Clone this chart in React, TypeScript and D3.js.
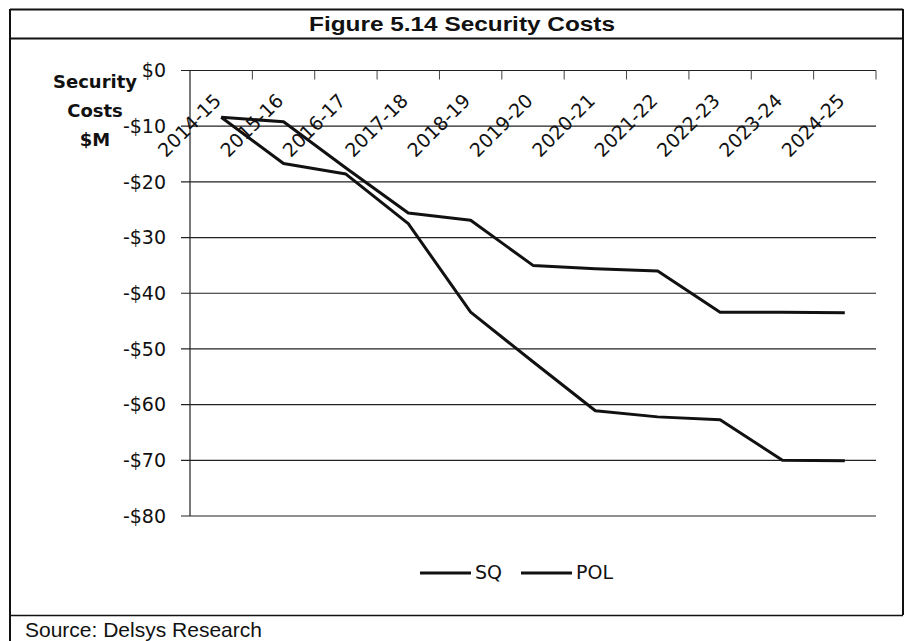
import React, { useEffect, useRef } from 'react';
import { select, scaleBand, scaleLinear, line } from 'd3';

const categories = ['2014-15', '2015-16', '2016-17', '2017-18', '2018-19', '2019-20', '2020-21', '2021-22', '2022-23', '2023-24', '2024-25'];
const sqValues = [-8.4, -16.7, -18.6, -27.5, -43.4, -52.3, -61.1, -62.2, -62.7, -70.0, -70.1];
const polValues = [-8.4, -9.2, -17.5, -25.6, -26.9, -35.0, -35.6, -36.0, -43.4, -43.4, -43.5];
const yTicks = [0, -10, -20, -30, -40, -50, -60, -70, -80];
const seriesNames = ['SQ', 'POL'];
const yTitle = ['Security', 'Costs', '$M'];

const W = 906;
const H = 641;
const FONT = '"DejaVu Sans", sans-serif';

const App = () => {
    const ref = useRef(null);

    useEffect(() => {
        const svg = select(ref.current);
        svg.selectAll('*').remove();

        // frame
        svg.append('rect').attr('width', W).attr('height', H).attr('fill', '#fff');
        const frame = svg.append('g').attr('stroke', '#111').attr('fill', 'none');
        frame.append('line').attr('x1', 10).attr('x2', 903).attr('y1', 9.5).attr('y2', 9.5).attr('stroke-width', 2);
        frame.append('line').attr('x1', 10).attr('x2', 903).attr('y1', 38.5).attr('y2', 38.5).attr('stroke-width', 2);
        frame.append('line').attr('x1', 10).attr('x2', 10).attr('y1', 9).attr('y2', H).attr('stroke-width', 2);
        frame.append('line').attr('x1', 903).attr('x2', 903).attr('y1', 9).attr('y2', 615).attr('stroke-width', 2);
        frame.append('line').attr('x1', 10).attr('x2', 903).attr('y1', 615.5).attr('y2', 615.5).attr('stroke-width', 1.5);

        svg.append('text')
            .attr('transform', 'translate(462, 31) scale(1.25, 1)')
            .attr('text-anchor', 'middle')
            .attr('font-family', '"Liberation Sans", Arial, sans-serif')
            .attr('font-weight', 'bold')
            .attr('font-size', 19.5)
            .attr('fill', '#111')
            .text('Figure 5.14 Security Costs');

        svg.append('text')
            .attr('x', 25)
            .attr('y', 637)
            .attr('font-family', '"Liberation Sans", Arial, sans-serif')
            .attr('font-size', 21)
            .attr('fill', '#111')
            .text('Source: Delsys Research');

        const x = scaleBand().domain(categories).range([190, 876]);
        const y = scaleLinear().domain([0, -80]).range([70.5, 516]);
        const cx = (c) => x(c) + x.bandwidth() / 2;

        // gridlines + left ticks
        svg.append('g')
            .selectAll('line')
            .data(yTicks)
            .enter()
            .append('line')
            .attr('x1', 181)
            .attr('x2', 876)
            .attr('y1', (d) => y(d))
            .attr('y2', (d) => y(d))
            .attr('stroke', '#222')
            .attr('stroke-width', 1.2);

        svg.append('line')
            .attr('x1', 190).attr('x2', 190)
            .attr('y1', y(0)).attr('y2', y(-80))
            .attr('stroke', '#222').attr('stroke-width', 1.2);

        svg.append('g')
            .selectAll('text')
            .data(yTicks)
            .enter()
            .append('text')
            .attr('x', 166)
            .attr('y', (d) => y(d))
            .attr('dy', '0.35em')
            .attr('text-anchor', 'end')
            .attr('font-family', FONT)
            .attr('font-size', 19)
            .attr('fill', '#111')
            .text((d) => (d === 0 ? '$0' : '-$' + Math.abs(d)));

        // category ticks hanging from the top line
        const tickXs = categories.map((c) => x(c)).slice(1).concat([x.range()[1]]);
        svg.append('g')
            .selectAll('line')
            .data(tickXs)
            .enter()
            .append('line')
            .attr('x1', (d) => d).attr('x2', (d) => d)
            .attr('y1', y(0)).attr('y2', y(0) + 9)
            .attr('stroke', '#444').attr('stroke-width', 1);

        svg.append('g')
            .selectAll('text')
            .data(categories)
            .enter()
            .append('text')
            .attr('transform', (d) => 'translate(' + (cx(d) + 1) + ', 102) rotate(-45)')
            .attr('text-anchor', 'end')
            .attr('font-family', FONT)
            .attr('font-size', 19)
            .attr('fill', '#111')
            .text((d) => d);

        // y title
        svg.append('g')
            .selectAll('text')
            .data(yTitle)
            .enter()
            .append('text')
            .attr('x', 95)
            .attr('y', (d, i) => 88 + i * 29)
            .attr('text-anchor', 'middle')
            .attr('font-family', FONT)
            .attr('font-weight', 'bold')
            .attr('font-size', 18)
            .attr('fill', '#111')
            .text((d) => d);

        const lineGen = line()
            .x((d, i) => cx(categories[i]))
            .y((d) => y(d));

        [sqValues, polValues].forEach((vals) => {
            svg.append('path')
                .attr('d', lineGen(vals))
                .attr('fill', 'none')
                .attr('stroke', '#111')
                .attr('stroke-width', 3)
                .attr('stroke-linejoin', 'round');
        });

        // legend
        const legendX = [420, 521];
        const leg = svg.append('g');
        seriesNames.forEach((name, i) => {
            leg.append('line')
                .attr('x1', legendX[i]).attr('x2', legendX[i] + 51)
                .attr('y1', 573).attr('y2', 573)
                .attr('stroke', '#111').attr('stroke-width', 3);
            leg.append('text')
                .attr('x', legendX[i] + 55)
                .attr('y', 579)
                .attr('font-family', FONT)
                .attr('font-size', 19)
                .attr('fill', '#111')
                .text(name);
        });
    }, []);

    return (
        <svg ref={ref} width={W} height={H} style={{ position: 'absolute', left: 0, top: 0 }}>
        </svg>
    );
};

export default App;
